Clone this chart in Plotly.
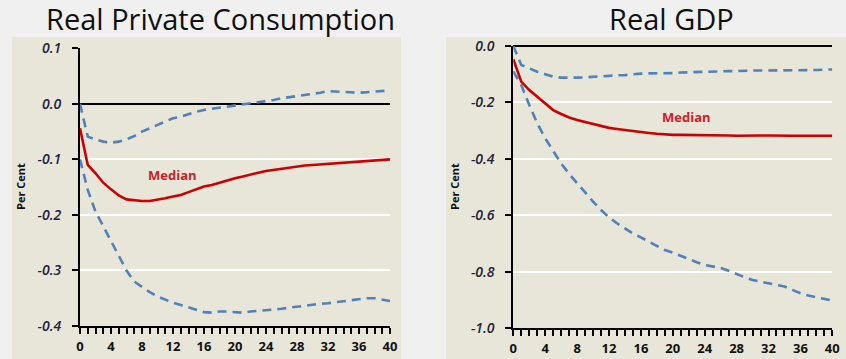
import plotly.graph_objects as go

W, H = 846, 359

quarters = list(range(41))

# Real private consumption: median and band (per cent)
cons_median = [-0.044, -0.110, -0.125, -0.142, -0.154, -0.165, -0.172, -0.174, -0.175, -0.175,
               -0.173, -0.170, -0.167, -0.164, -0.159, -0.154, -0.149, -0.146, -0.142, -0.137,
               -0.134, -0.131, -0.127, -0.124, -0.121, -0.119, -0.116, -0.115, -0.113, -0.111,
               -0.110, -0.109, -0.108, -0.107, -0.106, -0.104, -0.103, -0.102, -0.101, -0.100,
               -0.100]
cons_upper = [0.000, -0.059, -0.064, -0.068, -0.070, -0.068, -0.064, -0.058, -0.050, -0.044,
              -0.038, -0.032, -0.026, -0.023, -0.018, -0.014, -0.011, -0.009, -0.007, -0.005,
              -0.004, -0.001, 0.001, 0.003, 0.005, 0.007, 0.010, 0.012, 0.013, 0.015,
              0.017, 0.020, 0.023, 0.022, 0.021, 0.020, 0.020, 0.021, 0.022, 0.023,
              0.024]
cons_lower = [-0.100, -0.155, -0.194, -0.221, -0.248, -0.275, -0.300, -0.320, -0.330, -0.339,
              -0.347, -0.353, -0.358, -0.362, -0.366, -0.371, -0.375, -0.376, -0.374, -0.374,
              -0.375, -0.376, -0.374, -0.373, -0.372, -0.371, -0.369, -0.367, -0.365, -0.363,
              -0.362, -0.360, -0.359, -0.357, -0.356, -0.354, -0.352, -0.350, -0.350, -0.353,
              -0.355]

# Real GDP: median and band (per cent)
gdp_median = [-0.047, -0.126, -0.156, -0.179, -0.205, -0.227, -0.241, -0.253, -0.262, -0.269,
              -0.276, -0.283, -0.290, -0.294, -0.298, -0.301, -0.305, -0.308, -0.311, -0.314,
              -0.315, -0.315, -0.315, -0.315, -0.315, -0.316, -0.316, -0.317, -0.318, -0.317,
              -0.317, -0.317, -0.317, -0.318, -0.318, -0.318, -0.318, -0.318, -0.318, -0.318,
              -0.318]
gdp_upper = [0.000, -0.067, -0.079, -0.091, -0.100, -0.109, -0.112, -0.113, -0.112, -0.111,
             -0.109, -0.106, -0.105, -0.104, -0.103, -0.100, -0.098, -0.097, -0.097, -0.097,
             -0.096, -0.094, -0.093, -0.091, -0.090, -0.089, -0.089, -0.089, -0.089, -0.087,
             -0.087, -0.087, -0.087, -0.087, -0.086, -0.086, -0.086, -0.086, -0.085, -0.084,
             -0.083]
gdp_lower = [-0.090, -0.138, -0.209, -0.274, -0.327, -0.374, -0.416, -0.453, -0.486, -0.519,
             -0.551, -0.581, -0.607, -0.628, -0.646, -0.664, -0.678, -0.693, -0.708, -0.723,
             -0.732, -0.744, -0.756, -0.766, -0.776, -0.782, -0.786, -0.796, -0.808, -0.819,
             -0.829, -0.835, -0.841, -0.846, -0.852, -0.864, -0.876, -0.884, -0.890, -0.896,
             -0.902]

titles = ["Real Private Consumption", "Real GDP"]
y_label = "Per Cent"
median_label = "Median"
cons_yticks = [0.1, 0.0, -0.1, -0.2, -0.3, -0.4]
gdp_yticks = [0.0, -0.2, -0.4, -0.6, -0.8, -1.0]

RED = "#cc0000"
BLUE = "#4f81bd"
PANEL = "#e8e5d9"
PAGE = "#f0f0f0"


def px_x(v):
    return v / W


def px_y(v):
    return 1 - v / H


fig = go.Figure()

panels = [
    dict(xa="x", ya="y", med=cons_median, up=cons_upper, lo=cons_lower),
    dict(xa="x2", ya="y2", med=gdp_median, up=gdp_upper, lo=gdp_lower),
]
for p in panels:
    for band in (p["up"], p["lo"]):
        fig.add_trace(go.Scatter(x=quarters, y=band, mode="lines", xaxis=p["xa"], yaxis=p["ya"],
                                 line=dict(color=BLUE, width=2.6, dash="9px,6px"),
                                 showlegend=False, hoverinfo="skip"))
    fig.add_trace(go.Scatter(x=quarters, y=p["med"], mode="lines", xaxis=p["xa"], yaxis=p["ya"],
                             line=dict(color=RED, width=2.6), showlegend=False))

# panel backgrounds
for x0, x1 in [(12, 401), (446, 846)]:
    fig.add_shape(type="rect", xref="paper", yref="paper", layer="below",
                  x0=px_x(x0), x1=px_x(x1), y0=0, y1=px_y(37),
                  fillcolor=PANEL, line=dict(width=0))

minor_text = [str(v) if v % 4 == 0 else "" for v in quarters]

xaxis_common = dict(range=[0, 40], tickvals=quarters, ticktext=minor_text, automargin=False,
                    ticks="outside", ticklen=6, tickwidth=1.5, tickcolor="black",
                    showline=True, linecolor="black", linewidth=2, showgrid=False,
                    zeroline=False, ticklabelstandoff=1,
                    tickfont=dict(family="Open Sans", size=13, color="#111111", weight="bold"))
yaxis_common = dict(ticks="outside", ticklen=6, tickwidth=1.5, tickcolor="black", automargin=False,
                    showline=True, linecolor="black", linewidth=2,
                    showgrid=True, gridcolor="white", gridwidth=2,
                    zeroline=True, zerolinecolor="black", zerolinewidth=2,
                    ticklabelstandoff=8,
                    tickfont=dict(family="Open Sans", size=14, color="#22223a",
                                  style="italic", weight=600))

fig.update_layout(
    width=W, height=H, margin=dict(l=0, r=0, t=0, b=0, autoexpand=False),
    paper_bgcolor=PAGE, plot_bgcolor="rgba(0,0,0,0)",
    xaxis=dict(domain=[px_x(80), px_x(390)], anchor="y", **xaxis_common),
    yaxis=dict(domain=[px_y(326), px_y(48.3)], anchor="x", range=[-0.4, 0.1],
               tickvals=cons_yticks, ticktext=[f"{v:.1f}" for v in cons_yticks], **yaxis_common),
    xaxis2=dict(domain=[px_x(513.3), px_x(832.3)], anchor="y2", **xaxis_common),
    yaxis2=dict(domain=[px_y(328.3), px_y(46)], anchor="x2", range=[-1.0, 0.0],
                tickvals=gdp_yticks, ticktext=[f"{v:.1f}" for v in gdp_yticks], **yaxis_common),
)

# panel titles
for txt, cx in zip(titles, [220, 671]):
    fig.add_annotation(text=txt, xref="paper", yref="paper", x=px_x(cx), y=px_y(19),
                       showarrow=False, xanchor="center", yanchor="middle",
                       font=dict(family="Open Sans", size=29, color="#111111"))

# y-axis titles
for cx, cy in [(20, 187), (454, 187)]:
    fig.add_annotation(text=y_label, xref="paper", yref="paper", x=px_x(cx), y=px_y(cy),
                       showarrow=False, textangle=-90, xanchor="center", yanchor="middle",
                       font=dict(family="Open Sans", size=11, color="#111111", weight="bold"))

# median labels
fig.add_annotation(text=median_label, xref="x", yref="y", x=11.9, y=-0.128, showarrow=False,
                   font=dict(family="Open Sans", size=13, color="#d0202a", weight="bold"))
fig.add_annotation(text=median_label, xref="x2", yref="y2", x=21.7, y=-0.25, showarrow=False,
                   font=dict(family="Open Sans", size=13, color="#d0202a", weight="bold"))

fig.write_html("out.html")
